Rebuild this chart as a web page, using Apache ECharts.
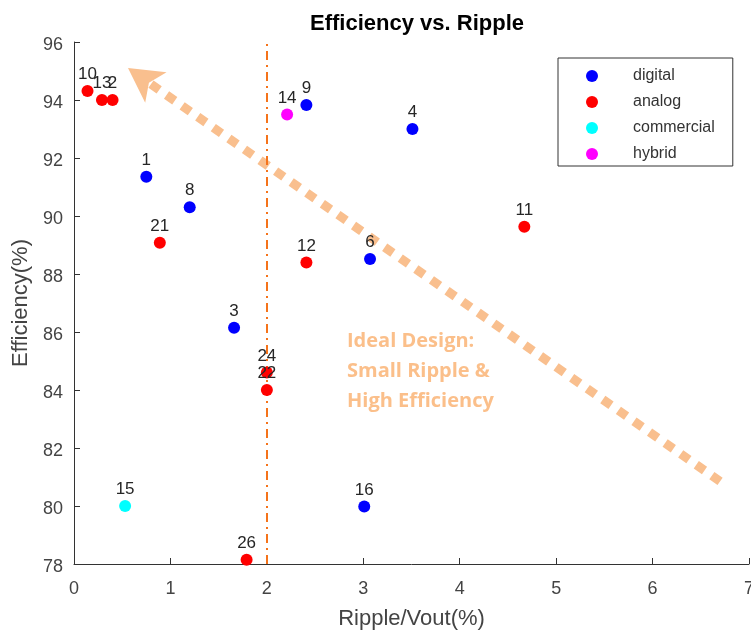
<!DOCTYPE html>
<html>
<head>
<meta charset="utf-8">
<script src="https://cdn.jsdelivr.net/npm/echarts@6/dist/echarts.min.js"></script>
<style>
  html, body { margin: 0; padding: 0; background: #fff; }
  #chart { width: 751px; height: 631px; }
</style>
</head>
<body>
<div id="chart"></div>
<script>
// Design points: id, ripple (% of Vout), efficiency (%) and design family
const designIds   = [1, 2, 3, 4, 6, 8, 9, 10, 11, 12, 13, 14, 15, 16, 21, 22, 24, 26];
const rippleVals  = [0.75, 0.40, 1.66, 3.51, 3.07, 1.20, 2.41, 0.14, 4.67, 2.41, 0.29, 2.21, 0.53, 3.01, 0.89, 2.00, 2.00, 1.79];
const effVals     = [91.35, 94.0, 86.15, 93.0, 88.52, 90.3, 93.83, 94.31, 89.63, 88.4, 94.0, 93.5, 80.0, 79.98, 89.08, 84.0, 84.6, 78.15];
const familyOf    = ['digital', 'analog', 'digital', 'digital', 'digital', 'digital', 'digital', 'analog', 'analog', 'analog', 'analog', 'hybrid', 'commercial', 'digital', 'analog', 'analog', 'analog', 'analog'];

const families    = ['digital', 'analog', 'commercial', 'hybrid'];
const familyColor = ['#0000ff', '#ff0000', '#00ffff', '#ff00ff'];

// Axis ranges and ticks
const xTicks = [0, 1, 2, 3, 4, 5, 6, 7];
const yTicks = [78, 80, 82, 84, 86, 88, 90, 92, 94, 96];

// Reference threshold and trend arrow (data coordinates)
const rippleLimit = 2;
const arrowFrom = [6.70, 80.85];
const arrowTo   = [0.56, 95.1];

const FONT = '"Liberation Sans", Arial, Helvetica, sans-serif';
const ARROW_COLOR = '#f9bf8e';

const chart = echarts.init(document.getElementById('chart'), null, { renderer: 'canvas' });

const scatterSeries = families.map((fam, fi) => {
  const pts = [];
  designIds.forEach((id, i) => {
    if (familyOf[i] === fam) pts.push({ value: [rippleVals[i], effVals[i]], name: String(id) });
  });
  return {
    name: fam,
    type: 'scatter',
    data: pts,
    symbol: 'circle',
    symbolSize: 12,
    itemStyle: { color: familyColor[fi], opacity: 1 },
    label: {
      show: true,
      position: 'top',
      distance: 2,
      formatter: p => p.name,
      fontFamily: FONT,
      fontSize: 17,
      color: '#262626'
    },
    emphasis: { disabled: true },
    z: 5
  };
});

// Vertical ripple threshold
const thresholdSeries = {
  name: 'threshold',
  type: 'scatter',
  data: [],
  silent: true,
  z: 3,
  markLine: {
    silent: true,
    animation: false,
    symbol: ['none', 'none'],
    label: { show: false },
    lineStyle: { color: '#f5731a', width: 2, type: [9, 5, 2, 5] },
    data: [{ xAxis: rippleLimit }]
  }
};

// "Ideal design" direction arrow
const arrowSeries = {
  name: 'direction',
  type: 'scatter',
  data: [],
  silent: true,
  z: 2,
  markLine: {
    silent: true,
    animation: false,
    symbol: ['none', 'arrow'],
    symbolSize: [28, 34],
    label: { show: false },
    lineStyle: { color: ARROW_COLOR, width: 9, type: [10, 9], cap: 'butt' },
    itemStyle: { color: ARROW_COLOR },
    data: [[{ coord: arrowFrom }, { coord: arrowTo }]]
  }
};

const option = {
  backgroundColor: '#ffffff',
  animation: false,
  title: {
    text: 'Efficiency vs. Ripple',
    left: 412, top: 8,
    textAlign: 'center',
    textStyle: { fontFamily: FONT, fontSize: 22, fontWeight: 'bold', color: '#000' }
  },
  grid: { left: 74, right: 2, top: 42, bottom: 67, containLabel: false, outerBoundsMode: 'none' },
  legend: {
    data: families,
    orient: 'vertical',
    left: 558, top: 58,
    padding: [10, 18, 4, 28],
    borderColor: '#333', borderWidth: 1,
    backgroundColor: '#fff',
    itemGap: 10,
    itemWidth: 12, itemHeight: 12,
    icon: 'circle',
    selectedMode: false,
    textStyle: { fontFamily: FONT, fontSize: 16, color: '#333', padding: [0, 0, 0, 30] }
  },
  xAxis: {
    type: 'value',
    min: xTicks[0], max: xTicks[xTicks.length - 1], interval: 1,
    name: 'Ripple/Vout(%)',
    nameLocation: 'middle', nameGap: 44,
    nameTextStyle: { fontFamily: FONT, fontSize: 22, color: '#444' },
    axisLine: { show: true, onZero: false, lineStyle: { color: '#333', width: 1 } },
    axisTick: { show: true, inside: true, length: 6, lineStyle: { color: '#333' } },
    axisLabel: { fontFamily: FONT, fontSize: 18, color: '#444', margin: 16 },
    splitLine: { show: false }
  },
  yAxis: {
    type: 'value',
    min: yTicks[0], max: yTicks[yTicks.length - 1], interval: 2,
    name: 'Efficiency(%)',
    nameLocation: 'middle', nameGap: 31, nameRotate: 90,
    nameTextStyle: { fontFamily: FONT, fontSize: 22, color: '#444' },
    axisLine: { show: true, onZero: false, lineStyle: { color: '#333', width: 1 } },
    axisTick: { show: true, inside: true, length: 6, lineStyle: { color: '#333' } },
    axisLabel: {
      fontFamily: FONT, fontSize: 18, color: '#444', margin: 11,
      formatter: '{v|{value}}',
      rich: { v: { fontFamily: FONT, fontSize: 18, color: '#444', padding: [6, 0, 0, 0] } }
    },
    splitLine: { show: false }
  },
  graphic: [
    {
      type: 'text',
      left: 347, top: 326,
      style: {
        text: 'Ideal Design:\nSmall Ripple &\nHigh Efficiency',
        fontFamily: '"Open Sans", "Noto Sans", sans-serif',
        fontSize: 20, fontWeight: 'bold',
        lineHeight: 30,
        fill: '#fbbf8a'
      },
      z: 10
    }
  ],
  series: [arrowSeries, thresholdSeries].concat(scatterSeries)
};

chart.setOption(option);
</script>
</body>
</html>
